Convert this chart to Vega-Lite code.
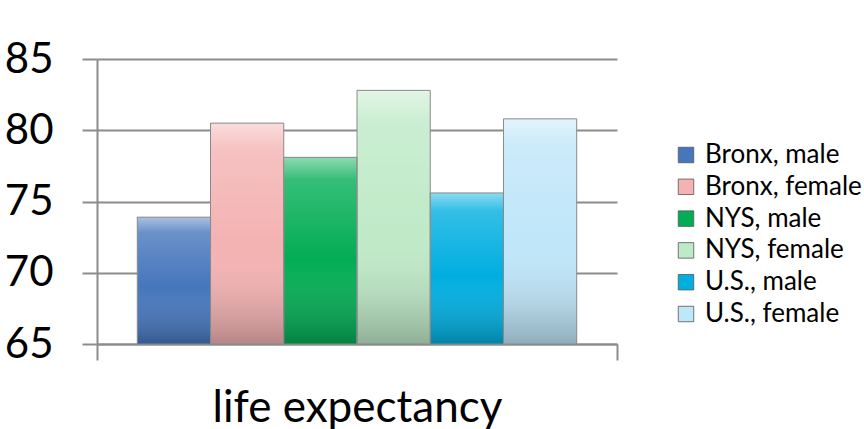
{
  "$schema": "https://vega.github.io/schema/vega-lite/v6.json",
  "autosize": "none",
  "padding": {"left": 97, "top": 59, "right": 247, "bottom": 85},
  "width": 520,
  "height": 285,
  "background": "white",
  "config": {"view": {"stroke": null}, "font": "Lato"},
  "data": {
    "values": [
      {"group": "life expectancy", "series": "Bronx, male", "value": 73.9},
      {"group": "life expectancy", "series": "Bronx, female", "value": 80.5},
      {"group": "life expectancy", "series": "NYS, male", "value": 78.1},
      {"group": "life expectancy", "series": "NYS, female", "value": 82.8},
      {"group": "life expectancy", "series": "U.S., male", "value": 75.6},
      {"group": "life expectancy", "series": "U.S., female", "value": 80.8}
    ]
  },
  "encoding": {
    "x": {
      "field": "group", "type": "nominal",
      "scale": {"paddingInner": 0, "paddingOuter": 0},
      "axis": {
        "title": null, "labelAngle": 0, "labelFontSize": 44, "labelColor": "#000", "labelLimit": 600,
        "labelPadding": 26, "tickBand": "extent", "tickSize": 16, "tickWidth": 2,
        "tickColor": "#8c8c8c", "domainColor": "#8c8c8c", "domainWidth": 2
      }
    },
    "xOffset": {
      "field": "series", "type": "nominal",
      "sort": ["Bronx, male", "Bronx, female", "NYS, male", "NYS, female", "U.S., male", "U.S., female"],
      "scale": {"paddingInner": 0, "paddingOuter": 0.55}
    },
    "y": {
      "field": "value", "type": "quantitative",
      "scale": {"domain": [65, 85], "nice": false, "zero": false},
      "axis": {
        "title": null, "values": [65, 70, 75, 80, 85], "labelFontSize": 42, "labelColor": "#000",
        "labelPadding": 29, "tickSize": 15, "tickWidth": 2, "tickColor": "#8c8c8c",
        "domainColor": "#8c8c8c", "domainWidth": 2, "gridColor": "#8c8c8c", "gridWidth": 2
      }
    },
    "y2": {"datum": 65}
  },
  "layer": [
    {
      "mark": {"type": "bar", "clip": true},
      "encoding": {
        "color": {
          "field": "series", "type": "nominal",
          "sort": ["Bronx, male", "Bronx, female", "NYS, male", "NYS, female", "U.S., male", "U.S., female"],
          "scale": {
            "domain": ["Bronx, male", "Bronx, female", "NYS, male", "NYS, female", "U.S., male", "U.S., female"],
            "range": ["#4676bc", "#f4b2b2", "#03ad55", "#bfeac8", "#00aee0", "#bfe6f9"]
          },
          "legend": {
            "title": null, "orient": "none", "legendX": 576, "legendY": 83,
            "symbolType": "square", "symbolSize": 240, "symbolStrokeColor": "#555", "symbolStrokeWidth": 0.8,
            "labelFontSize": 26, "labelColor": "#000", "labelOffset": 6, "rowPadding": 5.8, "labelLimit": 300
          }
        }
      }
    },
    {
      "mark": {
        "type": "bar", "clip": true, "stroke": "#8a8a8a", "strokeWidth": 1,
        "fill": {
          "gradient": "linear", "x1": 0, "y1": 0, "x2": 0, "y2": 1,
          "stops": [
            {"offset": 0, "color": "rgba(255,255,255,0.55)"},
            {"offset": 0.12, "color": "rgba(255,255,255,0.2)"},
            {"offset": 0.55, "color": "rgba(255,255,255,0)"},
            {"offset": 1, "color": "rgba(0,0,0,0.25)"}
          ]
        }
      }
    }
  ]
}
